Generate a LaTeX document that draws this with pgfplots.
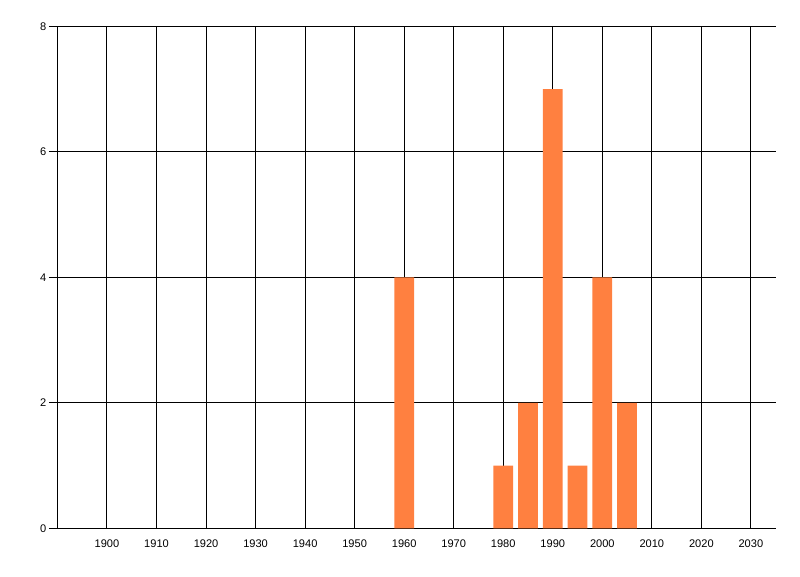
\documentclass[border=0pt]{standalone}
\usepackage{fontspec}
\setmainfont{Liberation Sans}
\usepackage{pgfplots}
\pgfplotsset{compat=1.18}
\definecolor{barorange}{HTML}{FF8040}

\begin{document}
\begin{tikzpicture}
% 1px = 0.75pt, page 800x576 px
\path[use as bounding box] (-43.1pt,-35.8pt) rectangle (556.9pt,396.2pt);
\begin{axis}[
  at={(0,0)}, anchor=south west,
  scale only axis,
  width=538.65pt, height=376.5pt,
  xmin=1890, xmax=2035,
  ymin=0, ymax=8,
  axis x line=bottom, axis y line=left,
  axis line style={-, line width=0.75pt},
  xtick={1900,1910,...,2030},
  ytick={0,2,4,6,8},
  grid=major,
  major grid style={black, line width=0.75pt},
  xtick style={draw=none},
  ytick style={black, line width=0.75pt},
  tick align=outside,
  major tick length=6.4pt,
  x tick label style={font=\fontsize{8.3}{9}\selectfont, yshift=1pt},
  y tick label style={font=\fontsize{8.3}{9}\selectfont, xshift=1.5pt},
  /pgf/number format/assume math mode=true,
  xticklabel={\pgfmathprintnumber[1000 sep={}]{\tick}},
  ybar, bar width=4,
]
\addplot[fill=barorange, draw=none] coordinates {
  (1960,4) (1980,1) (1985,2) (1990,7) (1995,1) (2000,4) (2005,2)
};
\end{axis}
\end{tikzpicture}
\end{document}
